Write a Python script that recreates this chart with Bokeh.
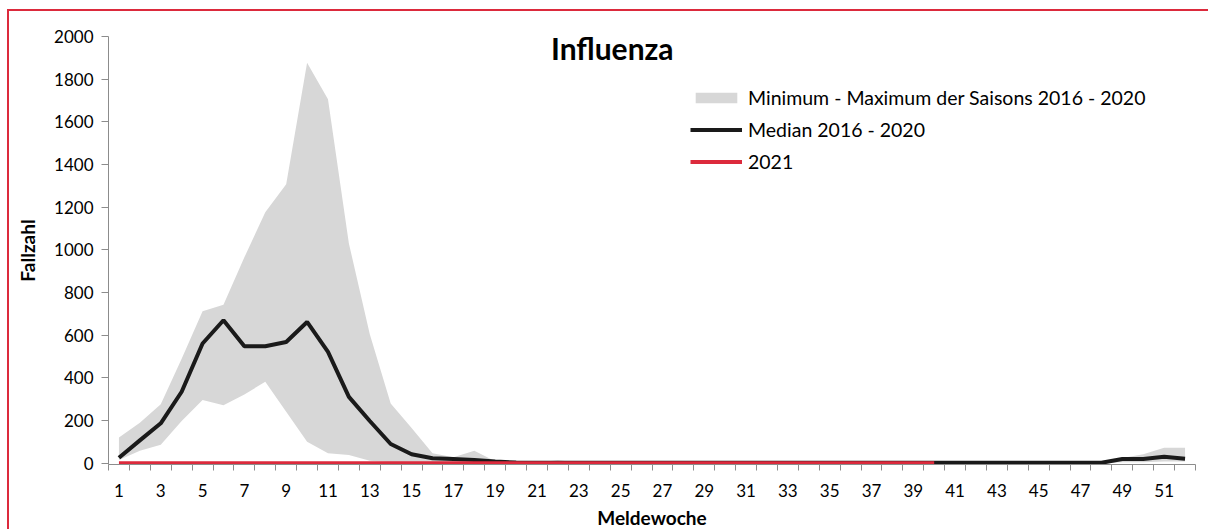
from bokeh.plotting import figure
from bokeh.models import (ColumnDataSource, FixedTicker, Legend, LegendItem, Label, Range1d)
from bokeh.embed import file_html
from bokeh.resources import INLINE

weeks = list(range(1, 53))
maximum = [120, 190, 276, 490, 712, 743, 965, 1176, 1308, 1877, 1706, 1030, 605, 280, 165,
           47, 28, 58, 9, 3, 3, 14, 3, 2, 2, 2, 2, 2, 2, 2, 2, 2, 2, 2, 2, 2, 2, 2, 2, 2,
           2, 2, 2, 2, 2, 2, 2, 2, 25, 42, 73, 73]
minimum = [15, 58, 86, 198, 296, 272, 322, 382, 241, 101, 47, 39, 11, 5, 3,
           2, 2, 1, 0, 0, 0, 0, 0, 0, 0, 0, 0, 0, 0, 0, 0, 0, 0, 0, 0, 0, 0, 0, 0, 0,
           0, 0, 0, 0, 0, 0, 0, 0, 5, 5, 8, 8]
median = [26, 107, 187, 335, 561, 670, 548, 548, 568, 662, 522, 311, 198, 90, 42,
          23, 20, 15, 8, 3, 2, 2, 2, 2, 2, 2, 2, 2, 2, 2, 2, 2, 2, 2, 2, 2, 2, 2, 2, 2,
          2, 2, 2, 2, 2, 2, 2, 2, 20, 20, 30, 21]
weeks_2021 = list(range(1, 41))
cases_2021 = [0] * 40

y_ticks = list(range(0, 2001, 200))
x_label_ticks = list(range(1, 53, 2))

title_text = "Influenza"
legend_labels = ["Minimum - Maximum der Saisons 2016 - 2020", "Median 2016 - 2020", "2021"]

FONT = "Lato"
RED = "#dc2a3c"
GREY_AXIS = "#8c8c8c"

src = ColumnDataSource(dict(week=weeks, lo=minimum, hi=maximum, med=median))
src21 = ColumnDataSource(dict(week=weeks_2021, val=cases_2021))

p = figure(width=1201, height=520, output_backend="svg", toolbar_location=None,
           x_range=Range1d(0.5, 52.5), y_range=Range1d(-6, 2000),
           min_border_left=99, min_border_right=15, min_border_top=25, min_border_bottom=63)
p.styles = {"border-left": f"2px solid {RED}", "border-top": f"2px solid {RED}",
            "margin-left": "7px", "margin-top": "9px"}
p.outline_line_color = None
p.xgrid.visible = False
p.ygrid.visible = False
p.background_fill_color = "white"
p.border_fill_color = "white"

area = p.varea(x="week", y1="lo", y2="hi", source=src, fill_color="#d7d7d7")
med = p.line(x="week", y="med", source=src, line_color="#1a1a1a", line_width=4)
cur = p.line(x="week", y="val", source=src21, line_color=RED, line_width=4)

# axes
p.yaxis.ticker = FixedTicker(ticks=y_ticks)
p.yaxis.axis_line_color = GREY_AXIS
p.yaxis.major_tick_line_color = GREY_AXIS
p.yaxis.major_tick_out = 7
p.yaxis.major_tick_in = 0
p.yaxis.minor_tick_line_color = None
p.yaxis.major_label_text_font = FONT
p.yaxis.major_label_text_font_size = "17px"
p.yaxis.major_label_text_color = "black"
p.yaxis.major_label_standoff = 8
p.yaxis.axis_label = "Fallzahl"
p.yaxis.axis_label_text_font = FONT
p.yaxis.axis_label_text_font_style = "bold"
p.yaxis.axis_label_text_font_size = "19px"
p.yaxis.axis_label_text_color = "black"
p.yaxis.axis_label_standoff = 12

p.xaxis.ticker = FixedTicker(ticks=x_label_ticks, minor_ticks=[w - 0.5 for w in weeks] + [52.5])
p.xaxis.axis_line_color = GREY_AXIS
p.xaxis.major_tick_line_color = None
p.xaxis.major_tick_out = 0
p.xaxis.major_tick_in = 0
p.xaxis.minor_tick_line_color = GREY_AXIS
p.xaxis.minor_tick_out = 6
p.xaxis.minor_tick_in = 0
p.xaxis.major_label_text_font = FONT
p.xaxis.major_label_text_font_size = "17px"
p.xaxis.major_label_text_color = "black"
p.xaxis.major_label_standoff = 13
p.xaxis.axis_label = "Meldewoche"
p.xaxis.axis_label_text_font = FONT
p.xaxis.axis_label_text_font_style = "bold"
p.xaxis.axis_label_text_font_size = "19px"
p.xaxis.axis_label_text_color = "black"
p.xaxis.axis_label_standoff = 6

# title inside plot area
p.add_layout(Label(x=24.6, y=1945, text=title_text, text_font=FONT, text_font_size="30px",
                   text_font_style="bold", text_color="black",
                   text_align="center", text_baseline="middle"))

legend = Legend(items=[LegendItem(label=legend_labels[0], renderers=[area]),
                       LegendItem(label=legend_labels[1], renderers=[med]),
                       LegendItem(label=legend_labels[2], renderers=[cur])],
                location=(582, 291), orientation="vertical")
legend.glyph_width = 52
legend.glyph_height = 13
legend.label_height = 20
legend.spacing = 9
legend.padding = 0
legend.margin = 0
legend.label_standoff = 6
legend.border_line_color = None
legend.background_fill_alpha = 0
legend.label_text_font = FONT
legend.label_text_font_size = "19.5px"
legend.label_text_color = "black"
p.add_layout(legend)

open("out.html", "w").write(file_html(p, INLINE))
